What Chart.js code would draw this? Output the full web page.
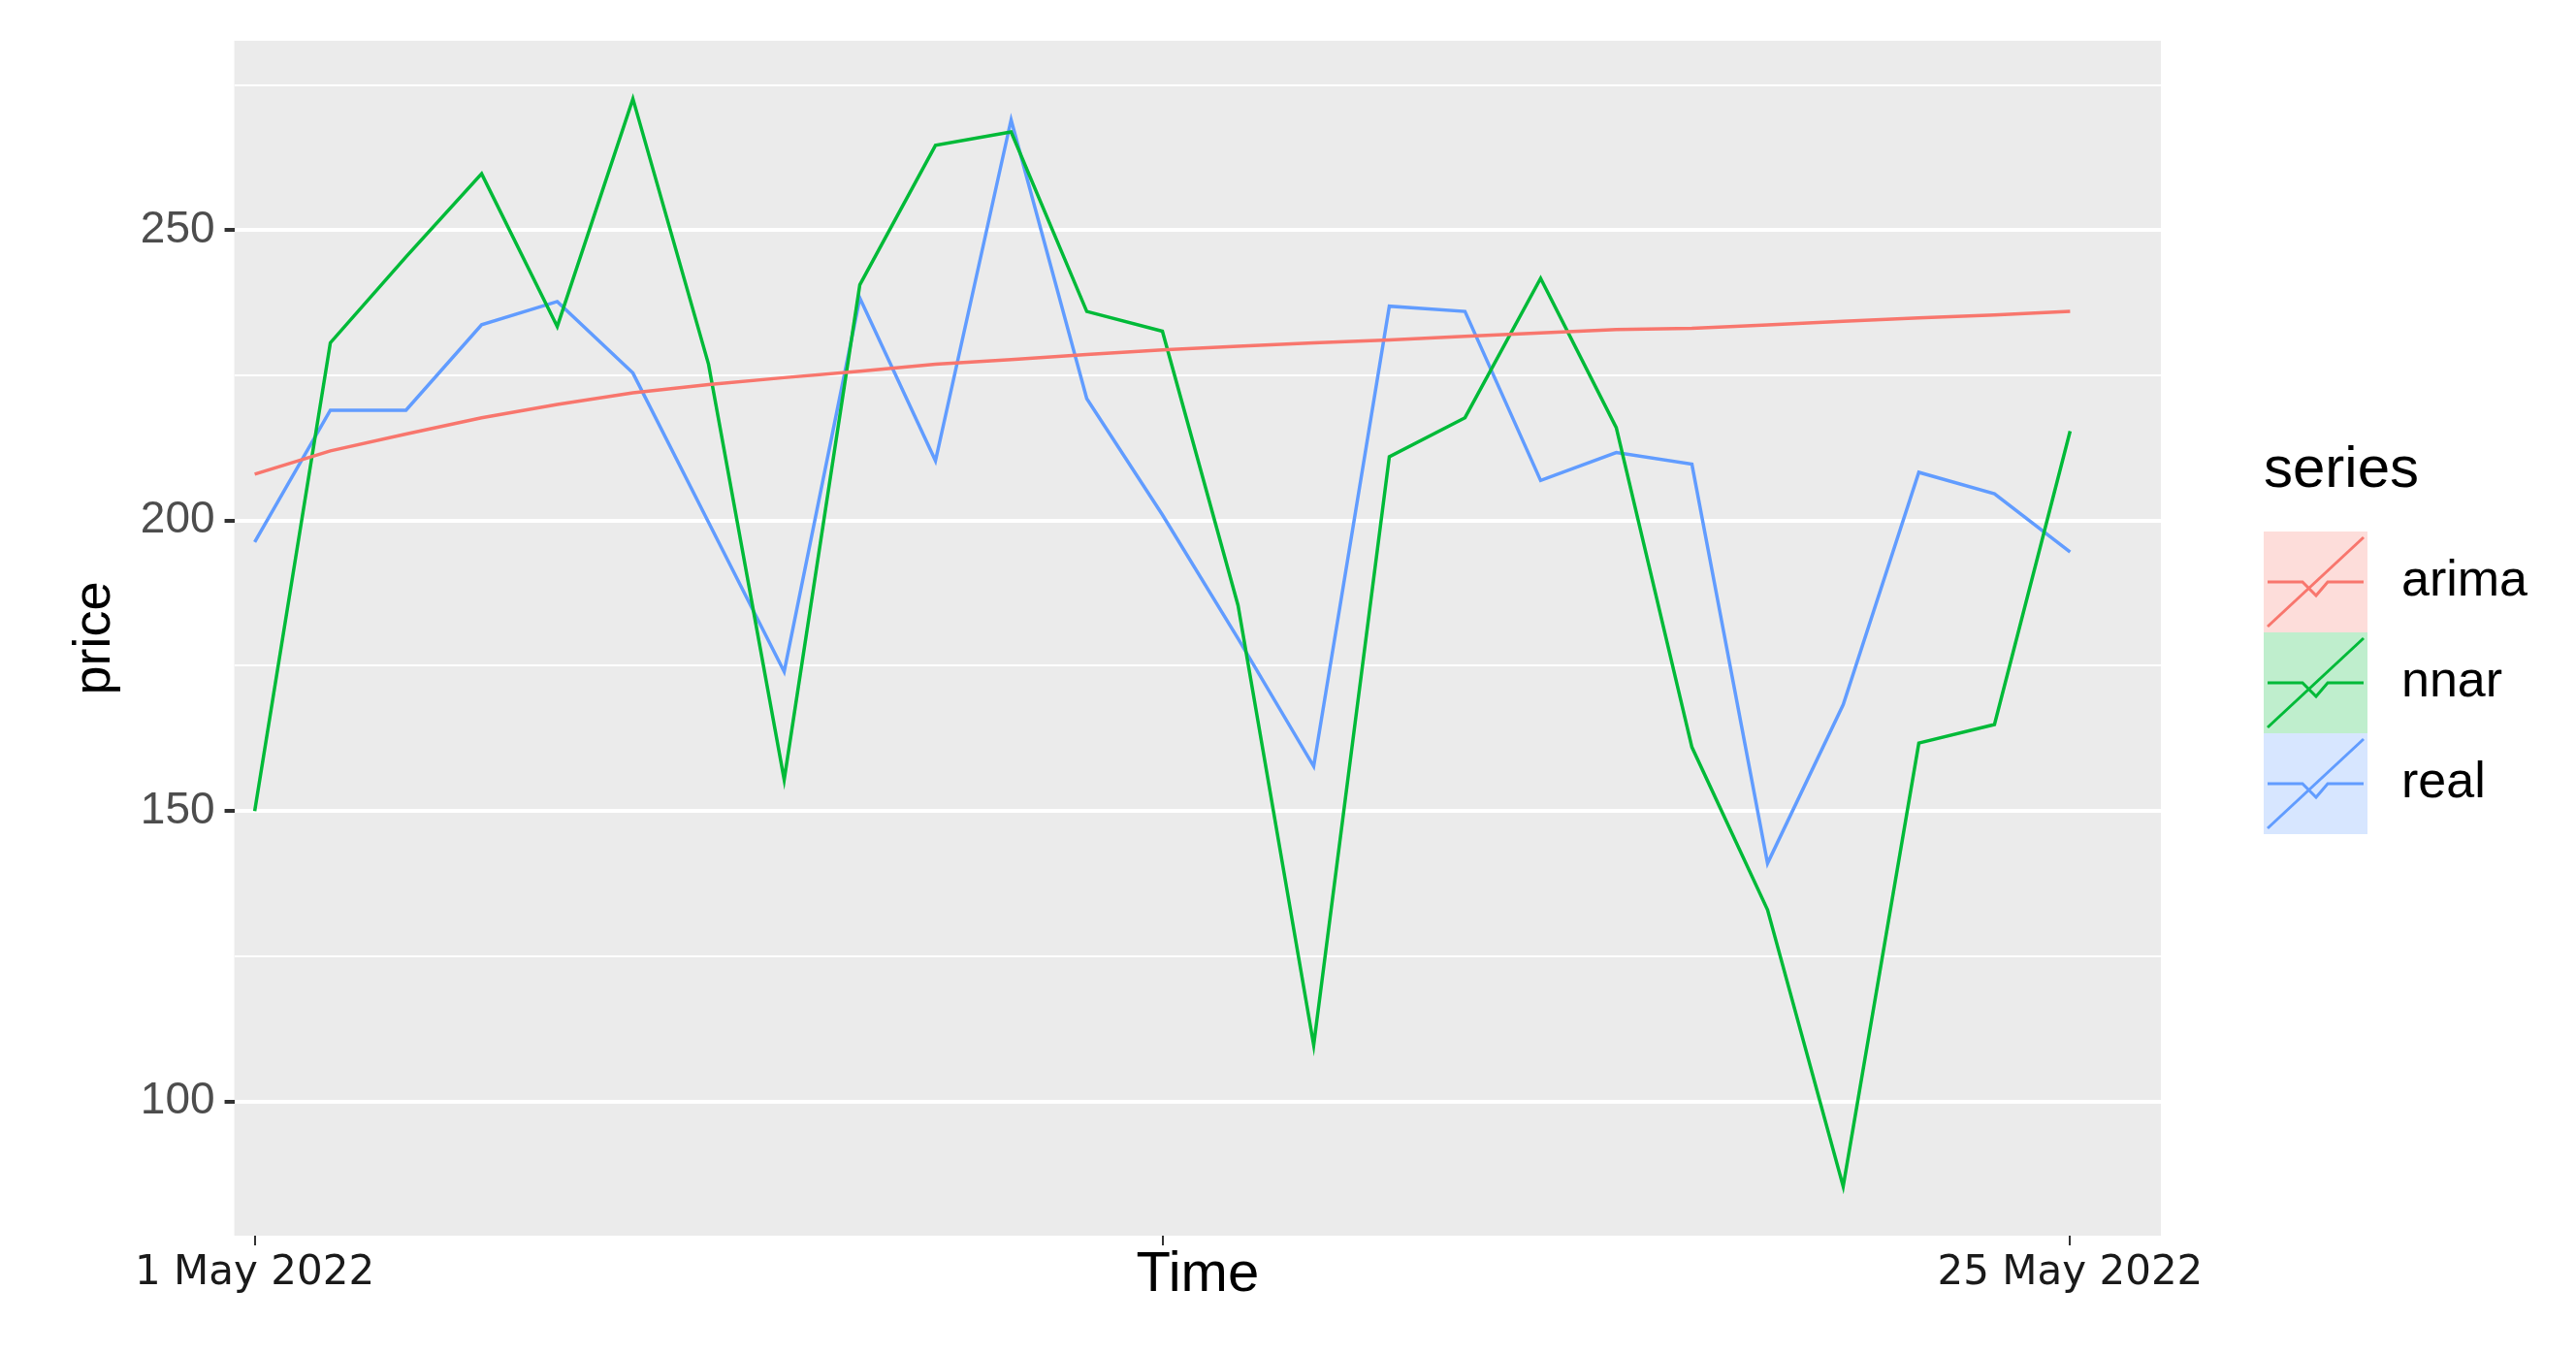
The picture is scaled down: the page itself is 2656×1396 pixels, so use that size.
<!DOCTYPE html>
<html>
<head>
<meta charset="utf-8">
<script src="https://cdn.jsdelivr.net/npm/chart.js@4"></script>
<style>
  html, body { margin: 0; padding: 0; background: #fff; }
  #wrap { width: 2656px; height: 1396px; }
</style>
</head>
<body>
<div id="wrap"><canvas id="priceChart"></canvas></div>
<script>
const days = [1,2,3,4,5,6,7,8,9,10,11,12,13,14,15,16,17,18,19,20,21,22,23,24,25];
const arima = [208,212,214.9,217.7,220,222,223.4,224.6,225.7,226.9,227.7,228.6,229.4,230,230.6,231.1,231.7,232.3,232.9,233.1,233.7,234.3,234.9,235.4,236];
const nnar = [150,230.6,245.4,259.7,233.4,272.6,226.9,155.4,240.6,264.6,266.9,236,232.6,185.4,109.7,211,217.7,241.7,216,161,133,85.4,161.7,164.9,215.4];
const real = [196.3,219,219,233.7,237.7,225.4,199.7,174,238.3,210.3,269,221,201,179.7,157.7,236.9,236,206.9,211.7,209.7,141,168.3,208.3,204.6,194.6];
const xTicks = [1, 13, 25];
const xTickLabels = { 1: '1 May 2022', 13: '', 25: '25 May 2022' };
const seriesNames = ['arima', 'nnar', 'real'];
const seriesColors = ['#F8766D', '#00BA38', '#619CFF'];

function toPoints(vals) {
    return vals.map((v, i) => ({ x: days[i], y: v }));
}

const panelBg = {
    id: 'panelBg',
    beforeDraw(chart) {
        const { ctx, chartArea: a } = chart;
        ctx.save();
        ctx.fillStyle = '#EBEBEB';
        ctx.fillRect(a.left, a.top, a.right - a.left, a.bottom - a.top);
        ctx.restore();
    }
};

const ggLegend = {
    id: 'ggLegend',
    afterDraw(chart) {
        const ctx = chart.ctx;
        const x0 = 2334, w = 107, h = 104;
        ctx.save();
        ctx.fillStyle = '#000';
        ctx.font = '60px "Liberation Sans", Arial, sans-serif';
        ctx.textBaseline = 'middle';
        ctx.fillText('series', x0, 485);
        seriesNames.forEach((name, i) => {
            const y0 = 548 + i * h;
            ctx.globalAlpha = 0.25;
            ctx.fillStyle = seriesColors[i];
            ctx.fillRect(x0, y0, w, h);
            ctx.globalAlpha = 1;
            ctx.strokeStyle = seriesColors[i];
            ctx.lineWidth = 3;
            ctx.beginPath();
            ctx.moveTo(x0 + 4, y0 + h - 6);
            ctx.lineTo(x0 + w - 4, y0 + 6);
            ctx.stroke();
            ctx.beginPath();
            ctx.moveTo(x0 + 4, y0 + h / 2);
            ctx.lineTo(x0 + 40, y0 + h / 2);
            ctx.lineTo(x0 + 54, y0 + h / 2 + 14);
            ctx.lineTo(x0 + 66, y0 + h / 2);
            ctx.lineTo(x0 + w - 4, y0 + h / 2);
            ctx.stroke();
            ctx.fillStyle = '#000';
            ctx.font = '52px "Liberation Sans", Arial, sans-serif';
            ctx.fillText(name, x0 + 142, y0 + h / 2);
        });
        ctx.restore();
    }
};

new Chart(document.getElementById('priceChart'), {
    type: 'line',
    data: {
        datasets: seriesNames.map((name, i) => ({
            label: name,
            data: toPoints([arima, nnar, real][i]),
            borderColor: seriesColors[i],
            borderWidth: 3.5,
            pointRadius: 0,
            tension: 0,
            fill: false
        }))
    },
    options: {
        responsive: true,
        maintainAspectRatio: false,
        animation: false,
        layout: { padding: { top: 42, right: 428, bottom: 42, left: 62 } },
        plugins: { legend: { display: false }, tooltip: { enabled: false } },
        scales: {
            x: {
                type: 'linear',
                min: 0.73,
                max: 26.2,
                afterBuildTicks(axis) { axis.ticks = xTicks.map(v => ({ value: v })); },
                ticks: {
                    autoSkip: false,
                    maxRotation: 0,
                    color: '#1a1a1a',
                    font: { size: 42, family: 'Tahoma, "DejaVu Sans", sans-serif' },
                    padding: 4,
                    callback: v => xTickLabels[v] ?? ''
                },
                grid: { display: true, drawOnChartArea: false, drawTicks: true, tickLength: 10, tickColor: '#333', lineWidth: 2 },
                border: { display: false },
                title: {
                    display: true, text: 'Time', color: '#000',
                    font: { size: 58, family: '"Liberation Sans", Arial, sans-serif' },
                    padding: { top: -62 }
                }
            },
            y: {
                min: 76.9,
                max: 282.6,
                afterBuildTicks(axis) {
                    axis.ticks = [75, 100, 125, 150, 175, 200, 225, 250, 275]
                        .filter(v => v >= axis.min && v <= axis.max).map(v => ({ value: v }));
                },
                ticks: {
                    color: '#4D4D4D',
                    font: { size: 46, family: '"Liberation Sans", Arial, sans-serif' },
                    padding: 10,
                    callback: v => (v % 50 === 0 ? v : '')
                },
                grid: {
                    color: '#FFFFFF',
                    lineWidth: c => (c.tick && c.tick.value % 50 === 0 ? 4 : 2),
                    tickColor: c => (c.tick && c.tick.value % 50 === 0 ? '#333' : 'rgba(0,0,0,0)'),
                    tickLength: 10,
                    drawTicks: true
                },
                border: { display: false },
                title: {
                    display: true, text: 'price', color: '#000',
                    font: { size: 54, family: '"Liberation Sans", Arial, sans-serif' }
                }
            }
        }
    },
    plugins: [panelBg, ggLegend]
});
</script>
</body>
</html>
